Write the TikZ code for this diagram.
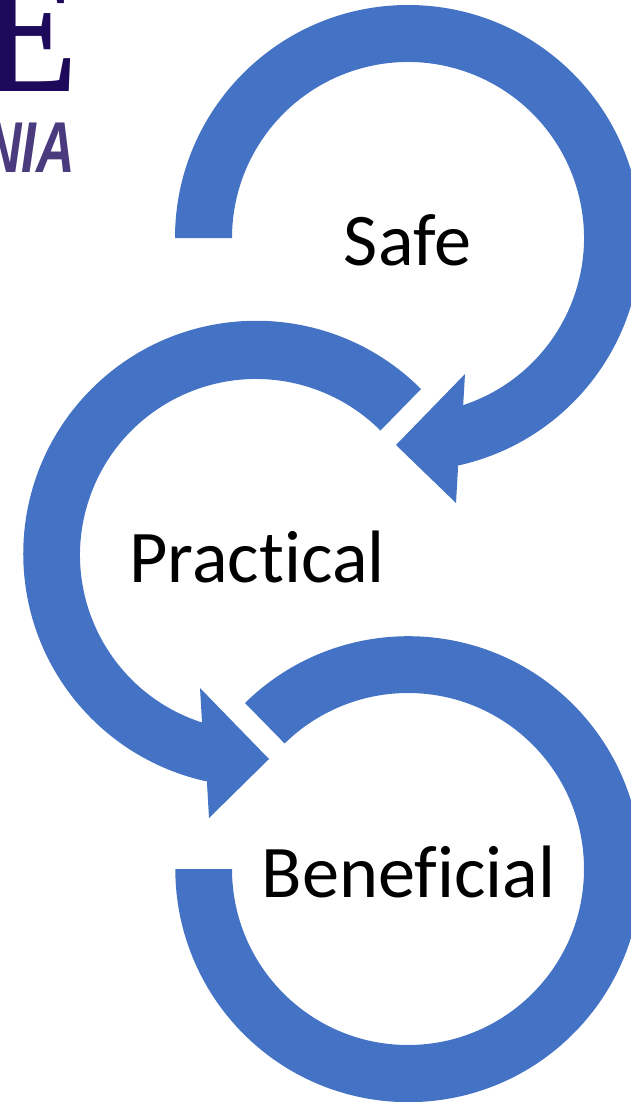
\documentclass[tikz,border=0pt]{standalone}
\usepackage{fontspec}
\usepackage{graphicx}
\setmainfont{Carlito}[Ligatures={NoCommon}]
\newfontfamily\logoserif{Liberation Serif}
\newfontfamily\logosans{Liberation Sans}
\definecolor{ringblue}{HTML}{4472C4}
\definecolor{logodark}{HTML}{1E0A5A}
\definecolor{logolight}{HTML}{4A3A7E}
\tikzset{
  ring/.style={fill=ringblue,draw=none},
  lbl/.style={anchor=base,inner sep=0pt,font=\fontsize{74.3}{75}\selectfont,text=black}
}
\begin{document}
\begin{tikzpicture}[x=1pt,y=1pt]
\useasboundingbox (0,0) rectangle (631,-1102);
\clip (0,0) rectangle (631,-1102);
% logo fragment
\begin{scope}
\clip (0,0) rectangle (72,-172);
\node[anchor=base east,inner sep=0pt,text=logodark,font=\fontsize{180}{180}\selectfont\logoserif\bfseries] (logoE) at (79,-92) {\scalebox{0.84}[1]{E}};
\node[anchor=base east,inner sep=0pt,text=logolight,font=\fontsize{72}{72}\selectfont\logosans\bfseries\itshape] (logoN) at (75,-172) {\scalebox{0.74}[1]{NIA}};
\end{scope}
% top ring
\fill[ring] (175,-238) arc[start angle=180,end angle=-77.7,radius=233pt]
  -- (458,-468) -- (456,-503) -- (396,-445) -- (465,-374) -- (463,-408)
  -- ([shift={(408,-238)}]-72.1:176pt)
  arc[start angle=-72.1,end angle=180,radius=176pt] -- cycle;
% middle ring
\fill[ring] (421,-389) arc[start angle=45,end angle=257.9,radius=233pt]
  -- (207,-783) -- (209,-818) -- (269,-759) -- (200,-688) -- (202,-722)
  -- ([shift={(256,-555)}]252.1:176pt)
  arc[start angle=252.1,end angle=45,radius=176pt] -- cycle;
% bottom ring
\fill[ring] (245,-703) arc[start angle=134.5,end angle=-180,radius=233pt]
  -- (232,-869) arc[start angle=-180,end angle=134.5,radius=176pt] -- cycle;
\node[lbl] (safe) at (407.5,-265) {Safe};
\node[lbl] (practical) at (257,-582) {Practical};
\node[lbl] (beneficial) at (408.5,-897) {Beneficial};
\end{tikzpicture}
\end{document}
